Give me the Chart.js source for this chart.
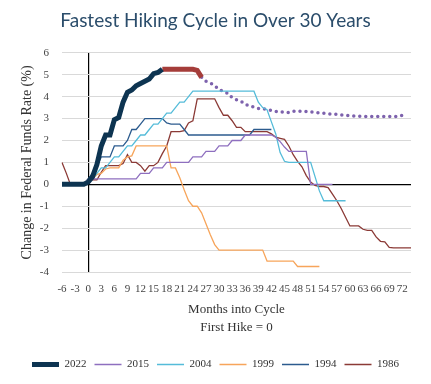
<!DOCTYPE html>
<html>
<head>
<meta charset="utf-8">
<title>Fastest Hiking Cycle in Over 30 Years</title>
<script src="https://cdn.jsdelivr.net/npm/chart.js@4.4.1/dist/chart.umd.min.js"></script>
<style>
body { margin: 0; background: #fff; }
</style>
</head>
<body>
<canvas id="hikeChart" width="431" height="384"></canvas>
<script>
// months into cycle, first hike = 0
var months = [-6,-5,-4,-3,-2,-1,0,1,2,3,4,5,6,7,8,9,10,11,12,13,14,15,16,17,18,19,20,
    21,22,23,24,25,26,27,28,29,30,31,32,33,34,35,36,37,38,39,40,41,42,43,44,45,46,47,48,
    49,50,51,52,53,54,55,56,57,58,59,60,61,62,63,64,65,66,67,68,69,70,71,72,73,74];

// change in fed funds rate (%), every series starts at month -6
var cycle2022 = [0,0,0,0,0,0, 0.1,0.35,0.9,1.75,2.25,2.25,2.95,3.05,3.75,4.2,4.3,4.5,4.6,4.7,4.8,5.05,5.1,5.25];
// hold part of 2022 (starts month 17) and projection (starts month 26)
var hold2022 = [5.25,5.25,5.25,5.25,5.25,5.25,5.25,5.25,5.2,4.88];
var proj2022 = [4.88,4.7,4.62,4.5,4.32,4.24,4.15,3.95,3.86,3.8,3.65,3.58,3.52,3.46,3.44,3.42,3.37,3.33,
    3.3,3.29,3.27,3.33,3.34,3.33,3.32,3.3,3.28,3.26,3.24,3.22,3.2,3.19,3.17,3.15,3.14,3.12,3.11,3.1,
    3.09,3.09,3.09,3.09,3.09,3.09,3.09,3.1,3.15];
var cycle2015 = [0,0,0,0,0,0, 0.25,0.25,0.25,0.25,0.25,0.25,0.25,0.25,0.25,0.25,0.25,0.25,
    0.5,0.5,0.5,0.75,0.75,0.75,1,1,1,1,1,1,1.25,1.25,1.25,1.5,1.5,1.5,1.75,1.75,1.75,2,2,2,
    2.25,2.25,2.25,2.25,2.25,2.25,2.25,2.15,1.95,1.7,1.5,1.5,1.5,1.5,1.5,0,0,0,0,0,0];
var cycle2004 = [0,0,0,0,0,0, 0.25,0.25,0.5,0.75,0.75,1,1.25,1.25,1.5,1.75,1.75,2,2.25,2.25,2.5,
    2.75,2.75,3,3.25,3.25,3.5,3.75,3.75,4,4.25, 4.25,4.25,4.25,4.25,4.25,4.25,4.25,4.25,4.25,4.25,
    4.25,4.25,4.25,4.25, 3.75,3.5,3.4,2.85,2.3,1.45,1.05, 1,1,1,1,1,1, 0.35,-0.3,
    -0.75,-0.75,-0.75,-0.75,-0.75,-0.75];
var cycle1999 = [0,0,0,0,0,0, 0.25,0.25,0.45,0.5,0.7,0.75,0.75,0.75,1.1,1.25,1.3,1.75,
    1.75,1.75,1.75,1.75,1.75,1.75,1.75, 0.75,0.75,0.3,-0.25,-0.75,-1,-1,-1.3,-1.8,-2.3,-2.75,
    -3,-3,-3,-3,-3,-3,-3,-3,-3,-3,-3, -3.5,-3.5,-3.5,-3.5,-3.5,-3.5,-3.5,
    -3.75,-3.75,-3.75,-3.75,-3.75,-3.75];
var cycle1994 = [0,0,0,0,0,0, 0.25,0.5,0.8,1.25,1.25,1.25,1.75,1.75,1.75,2,2.5,2.5,2.75,
    3,3,3,3,3, 2.8,2.75,2.75,2.75,2.5, 2.25,2.25,2.25,2.25,2.25,2.25,2.25,2.25,2.25,2.25,2.25,
    2.25,2.25,2.25,2.25, 2.5,2.5,2.5,2.5,2.5];
var cycle1986 = [1,0.5,-0.05,-0.05,-0.05,-0.05, 0.2,0.2,0.2,0.55,0.85,0.85,0.85,0.85,0.95,1.35,
    1,1,0.85,0.6,0.85,0.85,1,1.4,1.75,2.4,2.4,2.4,2.45,2.8,2.9,3.9,3.9,3.9,3.9,3.9,3.5,3.15,
    3.15,2.9,2.6,2.6,2.4,2.4,2.4,2.4,2.4,2.4,2.3,2.15,2.1,2.05,1.75,1.35,1.05,0.8,0.4,0.1,
    -0.05,-0.1,-0.1,-0.15,-0.45,-0.75,-1.1,-1.5,-1.9,-1.9,-1.9,-2.05,-2.1,-2.1,-2.4,-2.6,
    -2.62,-2.88,-2.9,-2.9,-2.9,-2.9,-2.9];

var serif = "'Liberation Serif', 'DejaVu Serif', serif";

// put nulls in front so a series starts at the given month
function startAt(month, values) {
    var out = [];
    for (var i = months[0]; i < month; i++) out.push(null);
    return out.concat(values);
}

function line(label, data, color, width) {
    return {
        label: label,
        data: data,
        borderColor: color,
        backgroundColor: color,
        borderWidth: width,
        pointRadius: 0,
        tension: 0,
        fill: false
    };
}

var projection = line('Projection', startAt(26, proj2022), '#7d62ad', 3.5);
projection.borderDash = [0, 6];
projection.borderCapStyle = 'round';

var ctx = document.getElementById('hikeChart').getContext('2d');
var chart = new Chart(ctx, {
    type: 'line',
    data: {
        labels: months,
        datasets: [
            line('2022', cycle2022, '#0d3451', 5),
            line('2015', cycle2015, '#8e6fbf', 1.3),
            line('2004', cycle2004, '#55bcd9', 1.3),
            line('1999', cycle1999, '#f7a55b', 1.3),
            line('1994', cycle1994, '#2c5b8e', 1.3),
            line('1986', cycle1986, '#8b3a36', 1.3),
            line('Hold', startAt(17, hold2022), '#a53d3a', 5),
            projection
        ]
    },
    options: {
        responsive: false,
        animation: false,
        layout: { padding: { left: 10, right: 10, top: 0, bottom: 4 } },
        plugins: {
            title: {
                display: true,
                text: 'Fastest Hiking Cycle in Over 30 Years',
                color: '#2b4d6b',
                font: { family: 'Lato', size: 19, weight: 'normal' },
                padding: { top: 9, bottom: 21 }
            },
            legend: {
                position: 'bottom',
                labels: {
                    filter: function(item) { return item.datasetIndex < 6; },
                    boxWidth: 27,
                    boxHeight: 0,
                    padding: 8,
                    color: '#333',
                    font: { family: serif, size: 11 }
                }
            },
            tooltip: { enabled: false }
        },
        scales: {
            x: {
                grid: {
                    drawTicks: false,
                    lineWidth: 1.2,
                    color: function(c) { return months[c.index] === 0 ? '#000' : 'rgba(0,0,0,0)'; }
                },
                border: { display: false },
                ticks: {
                    autoSkip: false,
                    maxRotation: 0,
                    padding: 11,
                    color: '#444',
                    font: { family: serif, size: 11 },
                    callback: function(v, i) {
                        var m = months[i];
                        return (m % 3 === 0 && m <= 72) ? String(m) : '';
                    }
                },
                title: {
                    display: true,
                    text: ['Months into Cycle', 'First Hike = 0'],
                    color: '#333',
                    font: { family: serif, size: 13, lineHeight: 1.4 },
                    padding: { top: 4, bottom: 14 }
                },
                afterFit: function(s) { s.height = 79; }
            },
            y: {
                min: -4,
                max: 6,
                grid: {
                    drawTicks: false,
                    color: function(c) { return c.tick.value === 0 ? '#000' : '#d9d9d9'; },
                    lineWidth: function(c) { return c.tick.value === 0 ? 1.2 : 1; }
                },
                border: { display: false },
                ticks: {
                    stepSize: 1,
                    padding: 13,
                    color: '#444',
                    font: { family: serif, size: 11 }
                },
                title: {
                    display: true,
                    text: 'Change in Federal Funds Rate (%)',
                    color: '#333',
                    font: { family: serif, size: 14, lineHeight: 1.4 },
                    padding: { top: 8, bottom: 0 }
                },
                afterFit: function(s) { s.width = 52; }
            },
            yRight: {
                position: 'right',
                grid: { display: false },
                border: { display: false },
                ticks: { display: false },
                afterFit: function(s) { s.width = 10; }
            }
        }
    }
});
</script>
</body>
</html>
